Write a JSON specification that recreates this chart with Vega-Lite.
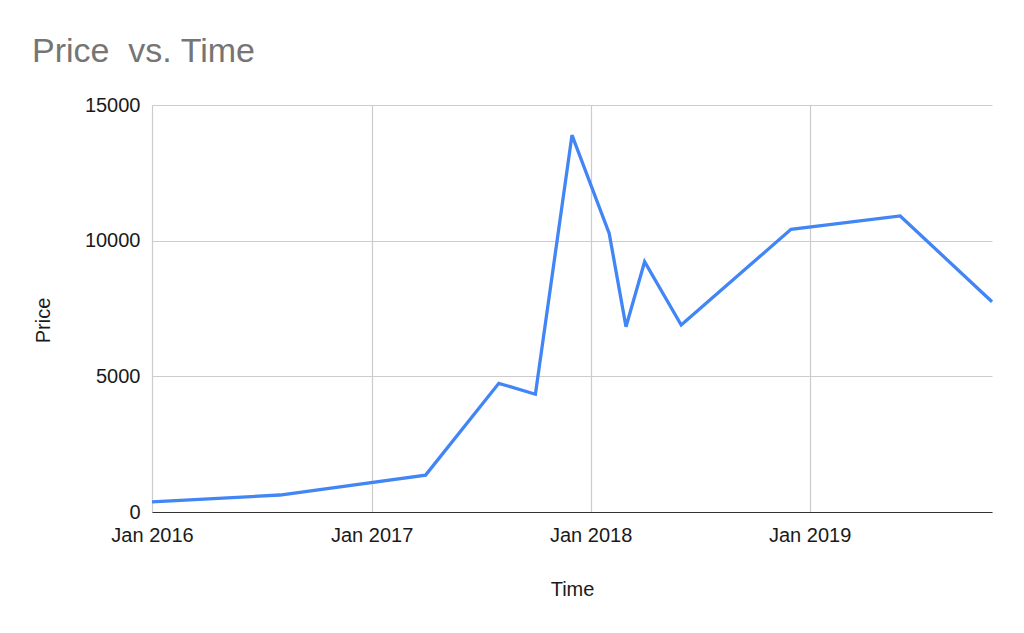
{
  "$schema": "https://vega.github.io/schema/vega-lite/v6.json",
  "width": 840,
  "height": 407,
  "autosize": {"type": "none"},
  "padding": {"left": 152, "top": 105, "right": 32, "bottom": 121},
  "background": "white",
  "title": {
    "text": "Price\u00a0 vs. Time",
    "anchor": "start",
    "frame": "group",
    "font": "Liberation Sans",
    "fontSize": 34,
    "fontWeight": "normal",
    "color": "#757575",
    "baseline": "alphabetic",
    "dx": -120,
    "dy": 31,
    "offset": 30
  },
  "data": {
    "values": [
      {"Time": "2016-01-01T00:00:00", "Price": 370},
      {"Time": "2016-08-01T00:00:00", "Price": 626},
      {"Time": "2017-04-01T00:00:00", "Price": 1360},
      {"Time": "2017-08-01T00:00:00", "Price": 4743},
      {"Time": "2017-10-01T00:00:00", "Price": 4340},
      {"Time": "2017-12-01T00:00:00", "Price": 13890},
      {"Time": "2018-02-01T00:00:00", "Price": 10270},
      {"Time": "2018-03-01T00:00:00", "Price": 6830},
      {"Time": "2018-04-01T00:00:00", "Price": 9225},
      {"Time": "2018-06-01T00:00:00", "Price": 6890},
      {"Time": "2018-12-01T00:00:00", "Price": 10420},
      {"Time": "2019-06-01T00:00:00", "Price": 10910},
      {"Time": "2019-11-01T00:00:00", "Price": 7750}
    ]
  },
  "mark": {"type": "line", "color": "#4285F4", "strokeWidth": 3.3, "strokeJoin": "miter"},
  "encoding": {
    "x": {
      "field": "Time",
      "type": "temporal",
      "title": "Time",
      "scale": {"nice": false},
      "axis": {
        "format": "%b %Y",
        "tickCount": {"interval": "year", "step": 1},
        "domainColor": "#333333",
        "domainWidth": 1,
        "ticks": false,
        "labelPadding": 13,
        "labelFlush": false,
        "labelOverlap": false,
        "titleY": 77,
        "titleBaseline": "middle"
      }
    },
    "y": {
      "field": "Price",
      "type": "quantitative",
      "title": "Price",
      "scale": {"domain": [0, 15000], "nice": false},
      "axis": {
        "values": [0, 5000, 10000, 15000],
        "format": "d",
        "domain": false,
        "ticks": false,
        "labelPadding": 12,
        "titleX": -109,
        "titleY": 215,
        "titleAngle": -90,
        "titleAlign": "center",
        "titleBaseline": "middle"
      }
    }
  },
  "config": {
    "view": {"stroke": null},
    "axis": {
      "labelFont": "Liberation Sans",
      "labelFontSize": 20,
      "labelColor": "#1a1a1a",
      "titleFont": "Liberation Sans",
      "titleFontSize": 20,
      "titleFontWeight": "normal",
      "titleColor": "#1a1a1a",
      "gridColor": "#cccccc",
      "gridWidth": 1.2
    }
  }
}
